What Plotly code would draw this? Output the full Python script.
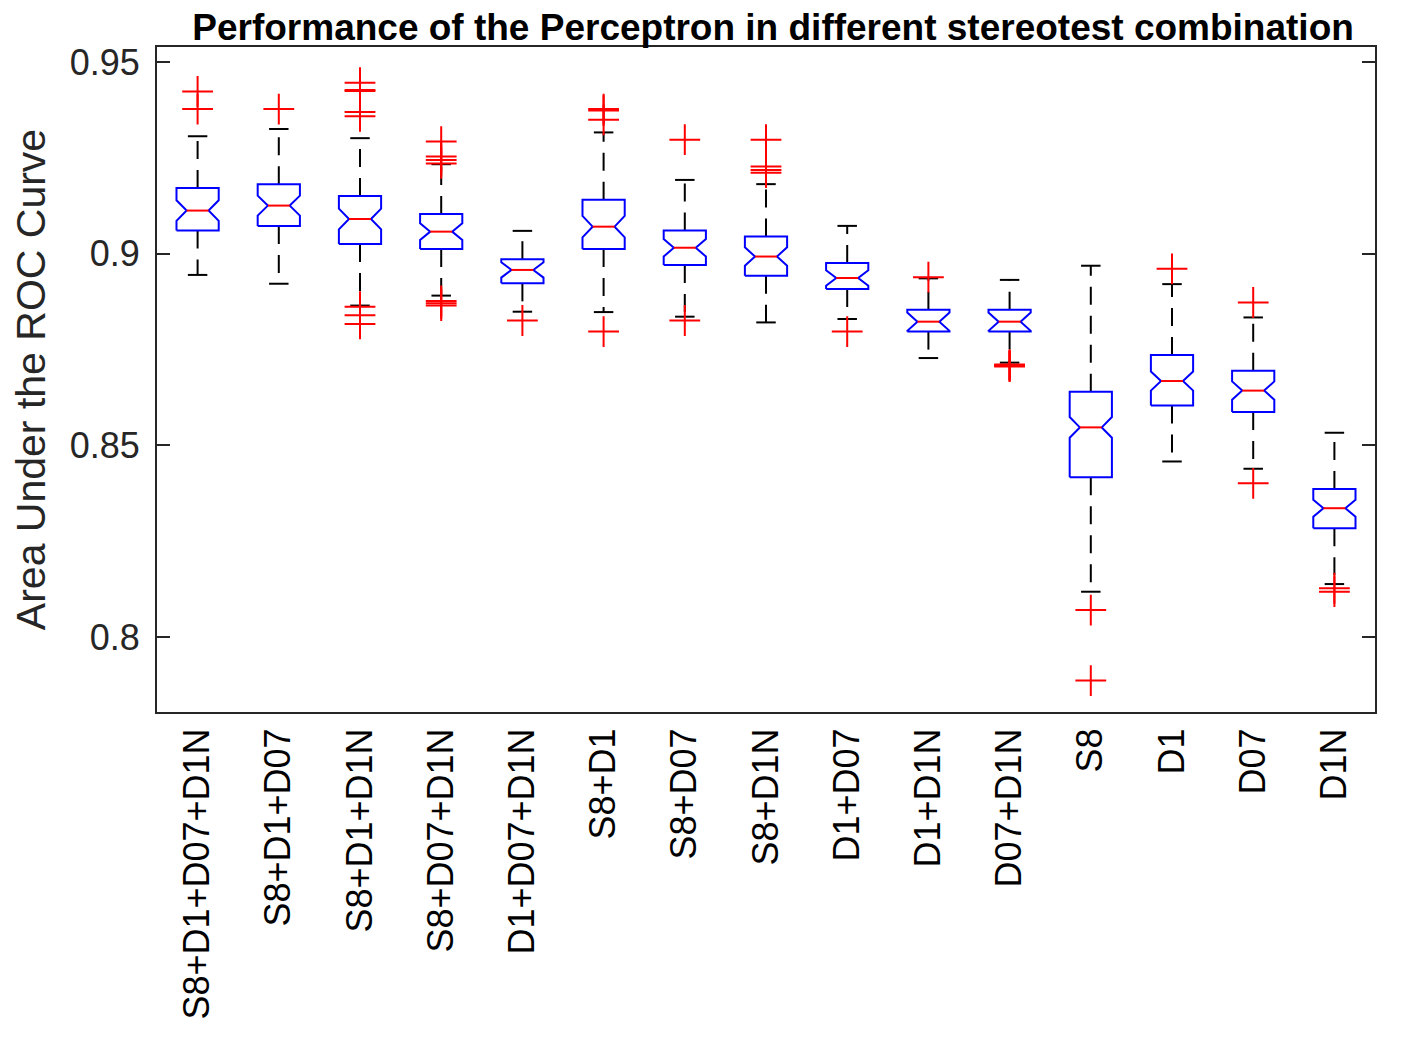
import plotly.graph_objects as go

# === Dados === #
categorias = ["S8+D1+D07+D1N", "S8+D1+D07", "S8+D1+D1N", "S8+D07+D1N", "D1+D07+D1N",
              "S8+D1", "S8+D07", "S8+D1N", "D1+D07", "D1+D1N", "D07+D1N",
              "S8", "D1", "D07", "D1N"]

whisker_sup = [0.9307, 0.9326, 0.9302, 0.9234, 0.9060, 0.9317, 0.9193, 0.9182,
               0.9073, 0.8936, 0.8932, 0.8969, 0.8921, 0.8834, 0.8533]
q3 = [0.9172, 0.9182, 0.9151, 0.9104, 0.8986, 0.9141, 0.9061, 0.9045,
      0.8976, 0.8854, 0.8854, 0.8640, 0.8736, 0.8695, 0.8386]
mediana = [0.9113, 0.9126, 0.9091, 0.9058, 0.8958, 0.9071, 0.9016, 0.8993,
           0.8937, 0.8823, 0.8823, 0.8547, 0.8668, 0.8643, 0.8336]
q1 = [0.9061, 0.9073, 0.9026, 0.9013, 0.8923, 0.9013, 0.8971, 0.8943,
      0.8908, 0.8797, 0.8797, 0.8417, 0.8604, 0.8587, 0.8284]
whisker_inf = [0.8945, 0.8922, 0.8865, 0.8891, 0.8849, 0.8848, 0.8836, 0.8821,
               0.8830, 0.8728, 0.8716, 0.8118, 0.8458, 0.8439, 0.8138]
entalhe = [0.0027, 0.0026, 0.0027, 0.0022, 0.0020, 0.0028, 0.0023, 0.0024,
           0.0020, 0.0024, 0.0024, 0.0027, 0.0025, 0.0024, 0.0022]
outliers = [
    [0.9424, 0.9378],
    [0.9378],
    [0.9447, 0.9428, 0.9425, 0.9370, 0.9359, 0.8862, 0.8840, 0.8817],
    [0.9293, 0.9254, 0.9245, 0.9236, 0.8877, 0.8871, 0.8865],
    [0.8826],
    [0.9378, 0.9374, 0.9350, 0.8797],
    [0.9298, 0.8826],
    [0.9298, 0.9228, 0.9219, 0.9212],
    [0.8797],
    [0.8939],
    [0.8711, 0.8709, 0.8707, 0.8706],
    [0.8070, 0.7886],
    [0.8961],
    [0.8873, 0.8401],
    [0.8127, 0.8118],
]

# === Geometria === #
w = 0.26     # meia largura da caixa
p = 0.135    # meia largura no entalhe
cap = 0.12   # meia largura das barras dos whiskers

bx, by = [], []
mx, my = [], []
wx, wy = [], []
cx, cy = [], []
ox, oy = [], []
for i in range(len(categorias)):
    c = i + 1
    n_sup = min(entalhe[i], q3[i] - mediana[i])
    n_inf = min(entalhe[i], mediana[i] - q1[i])
    bx += [c - w, c - w, c - p, c - w, c - w, c + w, c + w, c + p, c + w, c + w, c - w, None]
    by += [q1[i], mediana[i] - n_inf, mediana[i], mediana[i] + n_sup, q3[i],
           q3[i], mediana[i] + n_sup, mediana[i], mediana[i] - n_inf, q1[i], q1[i], None]
    mx += [c - p, c + p, None]
    my += [mediana[i], mediana[i], None]
    wx += [c, c, None, c, c, None]
    wy += [q3[i], whisker_sup[i], None, q1[i], whisker_inf[i], None]
    cx += [c - cap, c + cap, None, c - cap, c + cap, None]
    cy += [whisker_sup[i], whisker_sup[i], None, whisker_inf[i], whisker_inf[i], None]
    ox += [c] * len(outliers[i])
    oy += outliers[i]

fig = go.Figure()
fig.add_trace(go.Scatter(x=wx, y=wy, mode="lines",
                         line=dict(color="black", width=2, dash="18px,11px")))
fig.add_trace(go.Scatter(x=cx, y=cy, mode="lines",
                         line=dict(color="black", width=2)))
fig.add_trace(go.Scatter(x=bx, y=by, mode="lines",
                         line=dict(color="#0000ff", width=2)))
fig.add_trace(go.Scatter(x=mx, y=my, mode="lines",
                         line=dict(color="#ff0000", width=2)))
fig.add_trace(go.Scatter(x=ox, y=oy, mode="markers",
                         marker=dict(symbol="cross-thin", size=22,
                                     line=dict(color="#ff0000", width=2))))

fonte = "Liberation Sans, Arial, sans-serif"
fig.update_layout(
    title=dict(
        text="Performance of the Perceptron in different stereotest combination",
        font=dict(family=fonte, size=37, color="black", weight="bold"),
        x=0.5426, xanchor="center", y=0.982, yanchor="middle",
    ),
    xaxis=dict(
        range=[0.5, 15.5],
        tickvals=list(range(1, len(categorias) + 1)),
        ticktext=categorias,
        tickangle=-90,
        ticks="",
        showgrid=False, zeroline=False,
        showline=True, linecolor="#262626", linewidth=2, mirror=True,
        tickfont=dict(family=fonte, size=36, color="black"),
    ),
    yaxis=dict(
        title=dict(text="Area Under the ROC Curve",
                   font=dict(family=fonte, size=41, color="#262626"),
                   standoff=21),
        range=[0.7804, 0.9540],
        tickvals=[0.8, 0.85, 0.9, 0.95],
        ticktext=["0.8", "0.85", "0.9", "0.95"],
        ticks="inside", ticklen=13, tickwidth=2, tickcolor="#262626",
        showgrid=False, zeroline=False,
        showline=True, linecolor="#262626", linewidth=2, mirror="ticks",
        tickfont=dict(family=fonte, size=36, color="#262626"),
        ticklabelstandoff=8,
    ),
    showlegend=False,
    plot_bgcolor="white",
    paper_bgcolor="white",
    margin=dict(l=142, r=43, t=39, b=330),
    width=1410, height=1034,
)

fig.write_html("out.html")
